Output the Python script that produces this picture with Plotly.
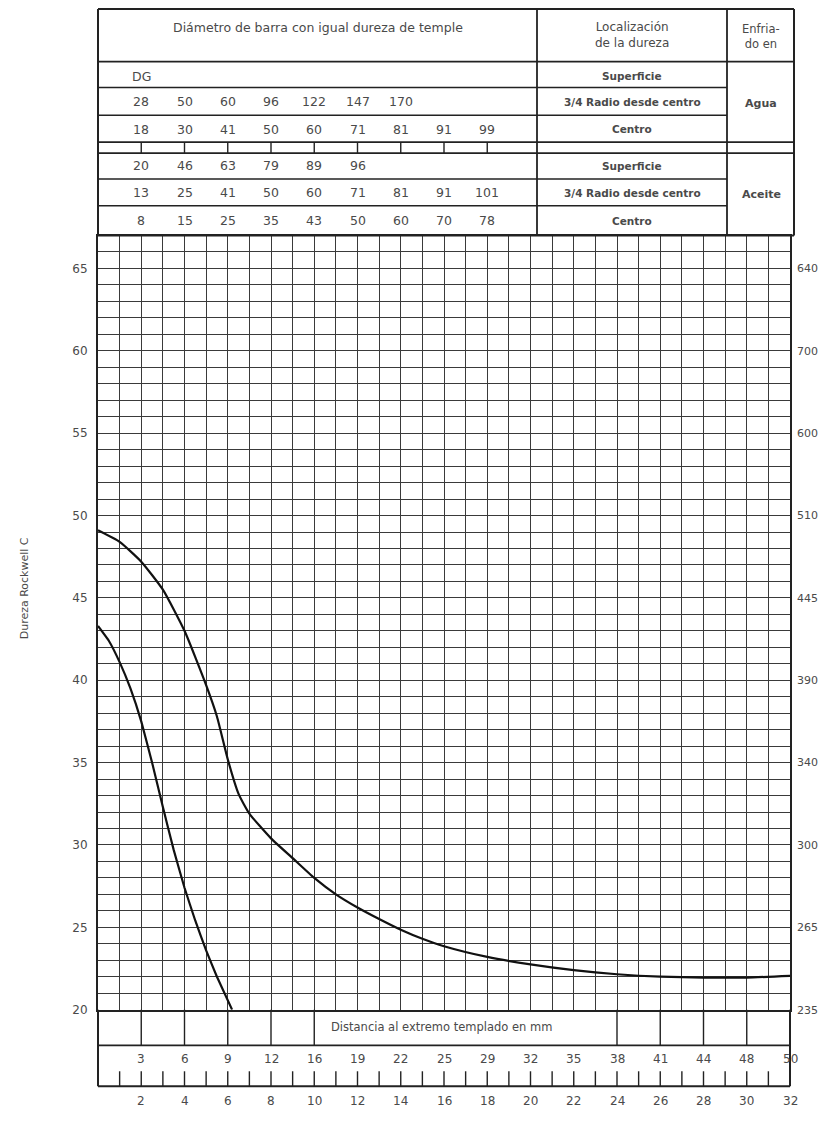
import plotly.graph_objects as go

W, H = 829, 1122

# ---------------- data ----------------
# Jominy distance in 1/16 inch, hardness HRC
upper_x = [0, 1, 2, 3, 4, 5, 5.5, 6, 6.5, 7, 8, 9, 10, 11, 12, 13, 14, 15, 16, 18, 20,
           22, 24, 26, 28, 30, 32]
upper_y = [49.1, 48.4, 47.2, 45.5, 43.0, 39.7, 37.8, 35.2, 33.1, 31.9, 30.4, 29.2, 28.0, 27.0,
           26.2, 25.5, 24.85, 24.3, 23.85, 23.2, 22.75, 22.4, 22.15, 22.0, 21.95, 21.95, 22.05]

lower_x = [0, 0.5, 1, 1.5, 2, 2.5, 3, 3.5, 4, 4.5, 5, 5.5, 6.2]
lower_y = [43.3, 42.4, 41.1, 39.5, 37.5, 35.0, 32.3, 29.7, 27.4, 25.4, 23.6, 22.0, 20.0]

hrc_ticks = [20, 25, 30, 35, 40, 45, 50, 55, 60, 65]
right_labels = ["235", "265", "300", "340", "390", "445", "510", "600", "700", "640"]

sixteenth_ticks = list(range(1, 32))
sixteenth_labels = [2, 4, 6, 8, 10, 12, 14, 16, 18, 20, 22, 24, 26, 28, 30, 32]
mm_labels = ["3", "6", "9", "12", "16", "19", "22", "25", "29", "32", "35", "38", "41", "44", "48", "50"]
box_lines = [2, 4, 6, 8, 10, 24, 26, 28, 30]

table_cols = [2, 4, 6, 8, 10, 12, 14, 16, 18]
agua_sup = ["DG"]
agua_34 = ["28", "50", "60", "96", "122", "147", "170"]
agua_centro = ["18", "30", "41", "50", "60", "71", "81", "91", "99"]
aceite_sup = ["20", "46", "63", "79", "89", "96"]
aceite_34 = ["13", "25", "41", "50", "60", "71", "81", "91", "101"]
aceite_centro = ["8", "15", "25", "35", "43", "50", "60", "70", "78"]

loc_labels = ["Superficie", "3/4 Radio desde centro", "Centro"]

# ---------------- layout helpers ----------------
def PX(x):
    return x / W

def PY(y):
    return 1 - y / H

X0, X1 = 98, 790          # grid left/right (px)
Y_TOP, Y_BOT = 237, 1016   # grid top/bottom (px)
TX1 = 794                  # table right edge
C1, C2 = 537, 727          # table column dividers
FONT = "DejaVu Sans"
TXT = "#4a4a4a"
LINE = "#222222"
GRID = "#3a3a3a"

fig = go.Figure()

fig.add_trace(go.Scatter(x=upper_x, y=upper_y, mode="lines",
                         line=dict(color="#111111", width=2.2, shape="spline", smoothing=0.5),
                         showlegend=False, hoverinfo="skip"))
fig.add_trace(go.Scatter(x=lower_x, y=lower_y, mode="lines",
                         line=dict(color="#111111", width=2.2, shape="spline", smoothing=0.3),
                         showlegend=False, hoverinfo="skip"))
fig.add_trace(go.Scatter(x=[None], y=[None], yaxis="y2", showlegend=False, hoverinfo="skip"))

shapes = []
annotations = []

def pline(x0, y0, x1, y1, w=1.6, color=LINE):
    shapes.append(dict(type="line", xref="paper", yref="paper",
                       x0=PX(x0), y0=PY(y0), x1=PX(x1), y1=PY(y1),
                       line=dict(color=color, width=w)))

def xline(x, y0, y1, w=1.4, color=LINE):
    shapes.append(dict(type="line", xref="x", yref="paper",
                       x0=x, x1=x, y0=PY(y0), y1=PY(y1),
                       line=dict(color=color, width=w)))

def ptext(x, y, t, size=12, bold=False, color=TXT):
    annotations.append(dict(xref="paper", yref="paper", x=PX(x), y=PY(y),
                            text=("<b>%s</b>" % t) if bold else t, showarrow=False,
                            xanchor="center", yanchor="middle",
                            font=dict(family=FONT, size=size, color=color)))

def xtext(x, y, t, size=12, color=TXT):
    annotations.append(dict(xref="x", yref="paper", x=x, y=PY(y), text=str(t),
                            showarrow=False, xanchor="center", yanchor="middle",
                            font=dict(family=FONT, size=size, color=color)))

# ---------------- table ----------------
pline(X0, 9, TX1, 9, 2)
pline(X0, 9, X0, Y_TOP, 2)
pline(TX1, 9, TX1, Y_TOP, 2)
pline(C1, 9, C1, Y_TOP, 1.8)
pline(C2, 9, C2, Y_TOP, 1.8)
pline(X0, Y_TOP, TX1, Y_TOP, 2)
for yy in [62, 143, 154]:
    pline(X0, yy, TX1, yy, 1.8)
for yy in [88, 116, 180, 207]:
    pline(X0, yy, C2, yy, 1.5)
for c in table_cols:
    xline(c, 143, 154, 1.4)

ptext(318, 28, "Diámetro de barra con igual dureza de temple", 12.5)
ptext(632, 35, "Localización<br>de la dureza", 12)
ptext(761, 37, "Enfria-<br>do en", 11.5)
ptext(761, 104, "Agua", 11, bold=True)
ptext(761, 196, "Aceite", 11, bold=True)
for lbl, yy in zip(loc_labels, [76, 103, 130]):
    ptext(632, yy, lbl, 10.5, bold=True)
for lbl, yy in zip(loc_labels, [167, 194, 222]):
    ptext(632, yy, lbl, 10.5, bold=True)

rows = [(agua_sup, 77), (agua_34, 102), (agua_centro, 130),
        (aceite_sup, 167), (aceite_34, 194), (aceite_centro, 222)]
for vals, yy in rows:
    for c, v in zip(table_cols, vals):
        xtext(c, yy, v, 12.5)

# ---------------- bottom scale ----------------
pline(X0, Y_BOT, X0, 1093, 2)
pline(X1, Y_BOT, X1, 1093, 2)
pline(X0, 1052, X1, 1052, 1.8)
pline(X0, 1093, X1, 1093, 2)
for b in box_lines:
    xline(b, Y_BOT, 1052, 1.4)
xtext(15.9, 1033, "Distancia al extremo templado en mm", 11.5)
for v, t in zip(sixteenth_labels, mm_labels):
    xtext(v, 1066, t, 12)
for v in sixteenth_ticks:
    xline(v, 1078, 1093, 1.4)
for v in sixteenth_labels:
    xtext(v, 1108, v, 12)

annotations.append(dict(xref="paper", yref="paper", x=PX(24), y=PY(592),
                        text="Dureza Rockwell C", textangle=-90, showarrow=False,
                        xanchor="center", yanchor="middle",
                        font=dict(family=FONT, size=11, color=TXT)))

fig.update_layout(
    width=W, height=H,
    margin=dict(l=0, r=0, t=0, b=0),
    paper_bgcolor="white", plot_bgcolor="white",
    showlegend=False,
    shapes=shapes, annotations=annotations,
    xaxis=dict(domain=[PX(X0), PX(X1)], range=[0, 32], dtick=1, tick0=0,
               showticklabels=False, ticks="", showgrid=True, gridcolor=GRID, gridwidth=1.3,
               showline=True, mirror=True, linecolor=LINE, linewidth=2, zeroline=False,
               fixedrange=True),
    yaxis=dict(domain=[PY(Y_BOT), PY(Y_TOP)], range=[20, 67], tickvals=hrc_ticks,
               ticktext=[str(v) for v in hrc_ticks], ticks="", ticklabelstandoff=6,
               tickfont=dict(family=FONT, size=12, color=TXT),
               showgrid=True, gridcolor=GRID, gridwidth=1.3,
               minor=dict(dtick=1, tick0=20, showgrid=True, gridcolor=GRID, gridwidth=1.3),
               showline=True, mirror=True, linecolor=LINE, linewidth=2, zeroline=False,
               fixedrange=True),
    yaxis2=dict(overlaying="y", side="right", anchor="x", range=[20, 67],
                tickvals=hrc_ticks, ticktext=right_labels, ticks="", ticklabelstandoff=6,
                tickfont=dict(family=FONT, size=11, color=TXT),
                showgrid=False, showline=False, zeroline=False, fixedrange=True),
)

fig.write_html("out.html", config={"displayModeBar": False},
               post_script="document.body.style.margin='0';document.body.style.overflow='hidden';")
